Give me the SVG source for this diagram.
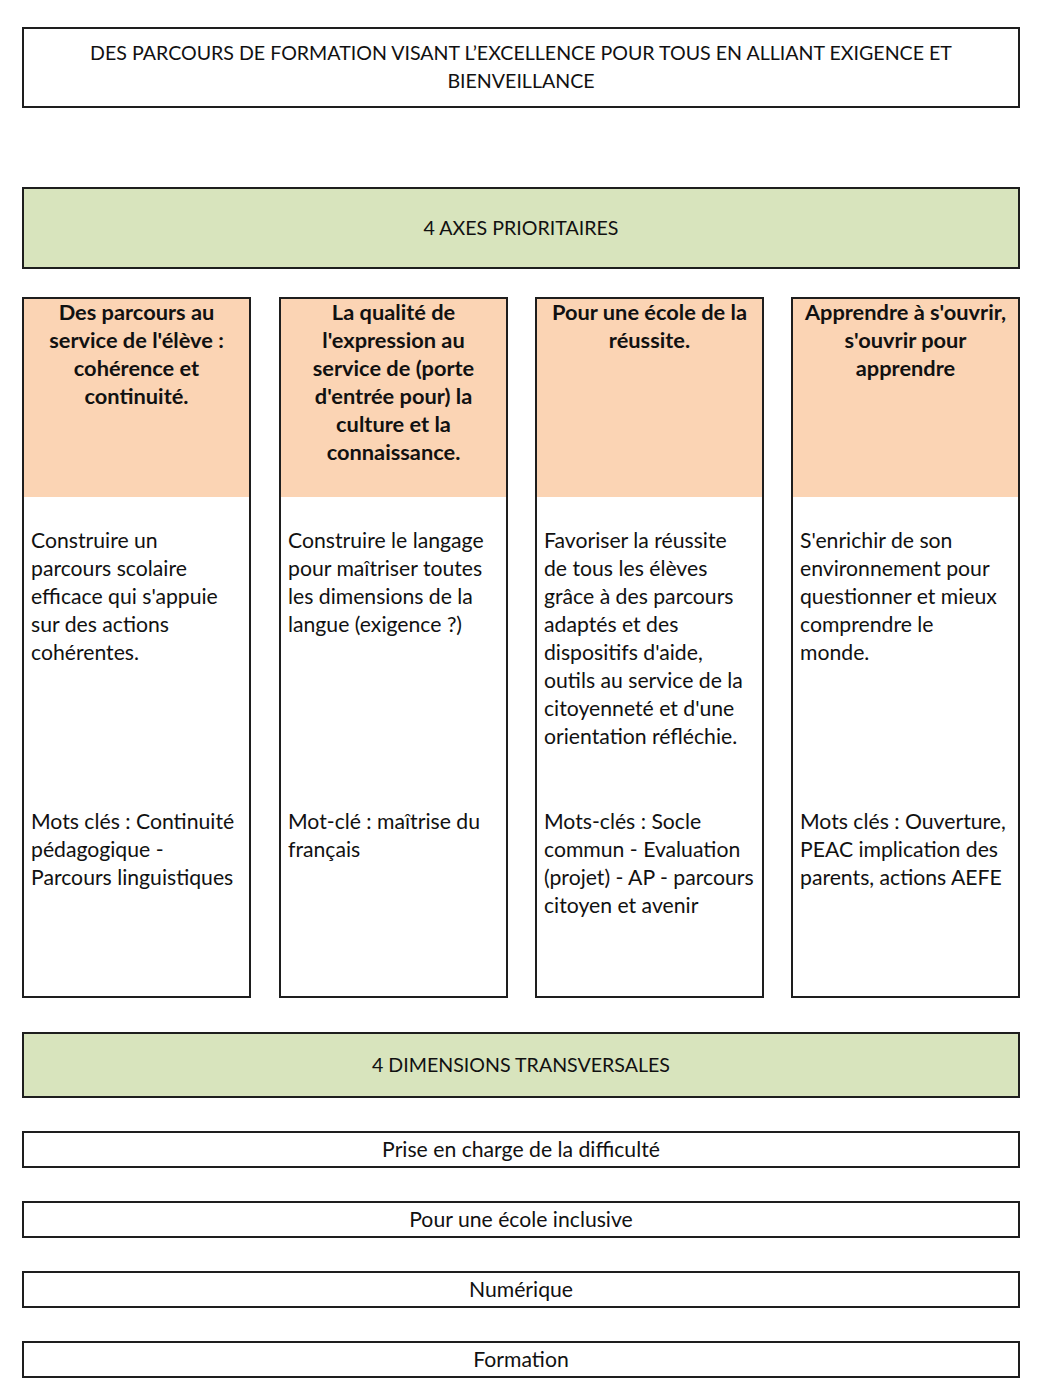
<svg xmlns="http://www.w3.org/2000/svg" width="1047" height="1400" viewBox="0 0 1047 1400">
<style>
.box{stroke:#1e1e1e;stroke-width:2;fill:#ffffff}
.green{fill:#d8e4bd}
.orange{fill:#fbd4b4}
text{font-family:Lato,"Liberation Sans",sans-serif;font-size:21.2px;fill:#111}
.c{text-anchor:middle}
.b{font-weight:bold;font-size:21.8px}
.caps{font-size:19.6px}
</style>
<rect width="1047" height="1400" fill="#ffffff"/>
<g id="title">
<rect class="box" x="23" y="28" width="996" height="79"/>
<text class="c caps" x="521" y="60">DES PARCOURS DE FORMATION VISANT L’EXCELLENCE POUR TOUS EN ALLIANT EXIGENCE ET</text>
<text class="c caps" x="521" y="88">BIENVEILLANCE</text>
</g>
<g id="axes">
<rect class="box green" x="23" y="188" width="996" height="80"/>
<text class="c caps" x="521" y="235">4 AXES PRIORITAIRES</text>
</g>
<g id="col1">
<rect class="box" x="23" y="298" width="227" height="699"/>
<rect class="orange" x="24" y="299" width="225" height="198"/>
<text class="c b" x="136.5" y="320">Des parcours au</text>
<text class="c b" x="136.5" y="348">service de l'élève :</text>
<text class="c b" x="136.5" y="376">cohérence et</text>
<text class="c b" x="136.5" y="404">continuité.</text>
<text x="31" y="548">Construire un</text>
<text x="31" y="576">parcours scolaire</text>
<text x="31" y="604">efficace qui s'appuie</text>
<text x="31" y="632">sur des actions</text>
<text x="31" y="660">cohérentes.</text>
<text x="31" y="829">Mots clés : Continuité</text>
<text x="31" y="857">pédagogique -</text>
<text x="31" y="885">Parcours linguistiques</text>
</g>
<g id="col2">
<rect class="box" x="280" y="298" width="227" height="699"/>
<rect class="orange" x="281" y="299" width="225" height="198"/>
<text class="c b" x="393.5" y="320">La qualité de</text>
<text class="c b" x="393.5" y="348">l'expression au</text>
<text class="c b" x="393.5" y="376">service de (porte</text>
<text class="c b" x="393.5" y="404">d'entrée pour) la</text>
<text class="c b" x="393.5" y="432">culture et la</text>
<text class="c b" x="393.5" y="460">connaissance.</text>
<text x="288" y="548">Construire le langage</text>
<text x="288" y="576">pour maîtriser toutes</text>
<text x="288" y="604">les dimensions de la</text>
<text x="288" y="632">langue (exigence ?)</text>
<text x="288" y="829">Mot-clé : maîtrise du</text>
<text x="288" y="857">français</text>
</g>
<g id="col3">
<rect class="box" x="536" y="298" width="227" height="699"/>
<rect class="orange" x="537" y="299" width="225" height="198"/>
<text class="c b" x="649.5" y="320">Pour une école de la</text>
<text class="c b" x="649.5" y="348">réussite.</text>
<text x="544" y="548">Favoriser la réussite</text>
<text x="544" y="576">de tous les élèves</text>
<text x="544" y="604">grâce à des parcours</text>
<text x="544" y="632">adaptés et des</text>
<text x="544" y="660">dispositifs d'aide,</text>
<text x="544" y="688">outils au service de la</text>
<text x="544" y="716">citoyenneté et d'une</text>
<text x="544" y="744">orientation réfléchie.</text>
<text x="544" y="829">Mots-clés : Socle</text>
<text x="544" y="857">commun - Evaluation</text>
<text x="544" y="885">(projet) - AP - parcours</text>
<text x="544" y="913">citoyen et avenir</text>
</g>
<g id="col4">
<rect class="box" x="792" y="298" width="227" height="699"/>
<rect class="orange" x="793" y="299" width="225" height="198"/>
<text class="c b" x="905.5" y="320">Apprendre à s'ouvrir,</text>
<text class="c b" x="905.5" y="348">s'ouvrir pour</text>
<text class="c b" x="905.5" y="376">apprendre</text>
<text x="800" y="548">S'enrichir de son</text>
<text x="800" y="576">environnement pour</text>
<text x="800" y="604">questionner et mieux</text>
<text x="800" y="632">comprendre le</text>
<text x="800" y="660">monde.</text>
<text x="800" y="829">Mots clés : Ouverture,</text>
<text x="800" y="857">PEAC implication des</text>
<text x="800" y="885">parents, actions AEFE</text>
</g>
<g id="dimensions">
<rect class="box green" x="23" y="1033" width="996" height="64"/>
<text class="c caps" x="521" y="1072">4 DIMENSIONS TRANSVERSALES</text>
</g>
<g id="dim1">
<rect class="box" x="23" y="1132" width="996" height="35"/>
<text class="c" x="521" y="1157">Prise en charge de la difficulté</text>
</g>
<g id="dim2">
<rect class="box" x="23" y="1202" width="996" height="35"/>
<text class="c" x="521" y="1227">Pour une école inclusive</text>
</g>
<g id="dim3">
<rect class="box" x="23" y="1272" width="996" height="35"/>
<text class="c" x="521" y="1297">Numérique</text>
</g>
<g id="dim4">
<rect class="box" x="23" y="1342" width="996" height="35"/>
<text class="c" x="521" y="1367">Formation</text>
</g>
<g id="connectors"/>
</svg>
